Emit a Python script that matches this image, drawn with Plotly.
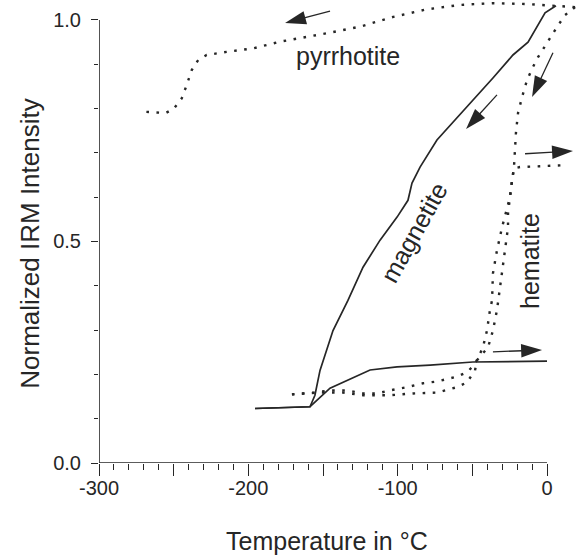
import plotly.graph_objects as go

# Low-temperature cycling of normalized IRM (temperature in °C)
pyr_t = [18.8, 4.2, -13.6, -36.0, -58.3, -80.6, -102.9, -125.2, -147.5, -178.8,
         -196.7, -214.5, -227.9, -233.5, -237.9, -241.3, -244.6, -249.8, -255.3, -270.3]
pyr_m = [1.029, 1.032, 1.036, 1.038, 1.034, 1.024, 1.007, 0.985, 0.970, 0.951,
         0.936, 0.928, 0.921, 0.910, 0.887, 0.853, 0.823, 0.800, 0.790, 0.793]

mag_cool_t = [6.0, -1.3, -12.7, -22.8, -36.2, -53.6, -73.7, -85.0, -90.4, -93.1,
              -100.4, -111.8, -123.2, -133.3, -143.3, -152.0, -155.4, -158.7, -195.5]
mag_cool_m = [1.032, 1.016, 0.950, 0.921, 0.869, 0.803, 0.729, 0.668, 0.632, 0.593,
              0.555, 0.503, 0.442, 0.367, 0.299, 0.209, 0.153, 0.127, 0.123]

mag_warm_t = [-195.5, -158.7, -145.3, -134.0, -118.5, -100.4, -78.3, -49.6, 0.0]
mag_warm_m = [0.123, 0.127, 0.169, 0.187, 0.210, 0.217, 0.221, 0.228, 0.230]

hem_cool_t = [18.8, 12.1, 6.7, 0.0, -6.0, -9.4, -13.4, -16.7, -19.4, -20.8, -21.4,
              -22.1, -23.4, -24.8, -26.1, -26.1, -28.1, -30.1, -32.8, -33.5, -36.2,
              -39.5, -46.9, -48.2, -53.6, -60.3, -73.7, -89.7, -105.1, -123.2,
              -136.6, -152.0, -170.8]
hem_cool_m = [1.029, 1.011, 0.984, 0.948, 0.916, 0.894, 0.864, 0.826, 0.790, 0.745, 0.706,
              0.668, 0.638, 0.600, 0.564, 0.532, 0.480, 0.428, 0.367, 0.345, 0.299,
              0.261, 0.232, 0.209, 0.182, 0.171, 0.159, 0.157, 0.153, 0.153,
              0.159, 0.159, 0.155]

hem_warm_t = [-170.8, -163.4, -155.4, -145.3, -133.9, -123.2, -113.8, -105.1, -93.8,
              -83.0, -73.7, -60.3, -53.6, -49.6, -46.9, -42.9, -40.2, -38.2, -36.8,
              -36.2, -33.5, -30.1, -27.5, -24.8, -23.4, -22.1, -18.1, 10.7]
hem_warm_m = [0.155, 0.157, 0.159, 0.164, 0.164, 0.157, 0.157, 0.164, 0.171,
              0.180, 0.184, 0.195, 0.205, 0.218, 0.232, 0.261, 0.299, 0.345, 0.367,
              0.428, 0.480, 0.532, 0.564, 0.600, 0.638, 0.665, 0.668, 0.672]

# Direction-of-travel arrows: (tail T, tail M, tip T, tip M)
arrows = [
    (-145.3, 1.020, -175.4, 0.993),
    (4.0, 0.926, -10.0, 0.826),
    (-33.5, 0.831, -54.2, 0.754),
    (-14.7, 0.698, 17.4, 0.704),
    (-36.2, 0.251, -3.3, 0.255),
]

x_major = [-300, -250, -200, -150, -100, -50, 0]
x_major_text = ["-300", "", "-200", "", "-100", "", "0"]
x_minor = [v for v in range(-290, 0, 10) if v % 50]
y_major = [0.0, 0.5, 1.0]
y_major_text = ["0.0", "0.5", "1.0"]
y_minor = [0.1, 0.2, 0.3, 0.4, 0.6, 0.7, 0.8, 0.9]

INK = "#262626"
FONT = "Liberation Sans, Arial, Helvetica, sans-serif"
DOTS = "2.6px,7.5px"

fig = go.Figure()


def curve(t, m, dash=None, width=1.6):
    fig.add_trace(go.Scatter(
        x=t, y=m, mode="lines",
        line=dict(color=INK, width=width, dash=dash or "solid"),
        hoverinfo="skip", showlegend=False,
    ))


curve(pyr_t, pyr_m, DOTS, 2.4)
curve(hem_cool_t, hem_cool_m, DOTS, 2.4)
curve(hem_warm_t, hem_warm_m, DOTS, 2.4)
curve(mag_cool_t, mag_cool_m, None, 1.7)
curve(mag_warm_t, mag_warm_m, None, 1.7)

for t0, m0, t1, m1 in arrows:
    fig.add_trace(go.Scatter(
        x=[t0, t1], y=[m0, m1], mode="lines+markers",
        line=dict(color=INK, width=1.3),
        marker=dict(symbol="arrow", size=22, angleref="previous",
                    color=INK, line=dict(width=0)),
        hoverinfo="skip", showlegend=False,
    ))

# Axis lines span only the labelled data range
fig.add_shape(type="line", xref="x", yref="y", x0=-300, x1=0, y0=0, y1=0,
              line=dict(color=INK, width=1.6))
fig.add_shape(type="line", xref="x", yref="y", x0=-300, x1=-300, y0=0, y1=1.0,
              line=dict(color=INK, width=1.6))

label_font = dict(family=FONT, size=25, color=INK)
fig.add_annotation(x=-133.5, y=0.918, xref="x", yref="y", text="pyrrhotite",
                   showarrow=False, font=label_font)
fig.add_annotation(x=-88.9, y=0.521, xref="x", yref="y", text="magnetite",
                   textangle=-61, showarrow=False, font=label_font)
fig.add_annotation(x=-11.0, y=0.455, xref="x", yref="y", text="hematite",
                   textangle=-90, showarrow=False, font=label_font)

fig.add_annotation(x=-147.3, y=0, xref="x", yref="paper", yshift=-94,
                   text="Temperature in °C", showarrow=False,
                   font=dict(family=FONT, size=25, color=INK))
fig.add_annotation(x=-300, y=0.495, xref="x", yref="y", xshift=-69,
                   text="Normalized IRM Intensity", textangle=-90, showarrow=False,
                   font=dict(family=FONT, size=26, color=INK))

fig.update_layout(
    width=581, height=556,
    margin=dict(l=99, r=0, t=0, b=93),
    paper_bgcolor="white", plot_bgcolor="white",
    font=dict(family=FONT, color=INK),
    xaxis=dict(
        range=[-300, 22.77], showgrid=False, zeroline=False, showline=False,
        tickmode="array", tickvals=x_major, ticktext=x_major_text,
        ticks="outside", ticklen=12, tickwidth=1.3, tickcolor=INK,
        tickfont=dict(family=FONT, size=20, color=INK), ticklabelstandoff=-5,
        minor=dict(tickmode="array", tickvals=x_minor, ticks="outside",
                   ticklen=6, tickwidth=1.3, tickcolor=INK, showgrid=False),
    ),
    yaxis=dict(
        range=[0, 1.0451], showgrid=False, zeroline=False, showline=False,
        tickmode="array", tickvals=y_major, ticktext=y_major_text,
        ticks="outside", ticklen=7, tickwidth=1.3, tickcolor=INK,
        tickfont=dict(family=FONT, size=20, color=INK), ticklabelstandoff=6,
        minor=dict(tickmode="array", tickvals=y_minor, ticks="outside",
                   ticklen=4.5, tickwidth=1.3, tickcolor=INK, showgrid=False),
    ),
)

fig.write_html("out.html")
